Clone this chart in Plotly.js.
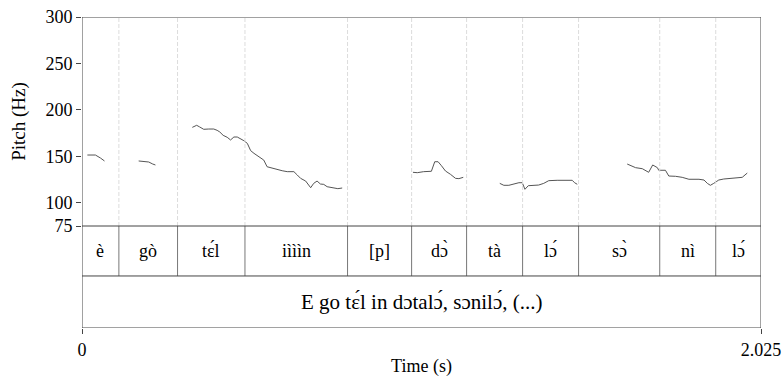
<!DOCTYPE html>
<html>
<head>
<meta charset="utf-8">
<script src="https://cdn.plot.ly/plotly-3.0.1.min.js"></script>
<style>html,body{margin:0;padding:0;background:#fff;}#chart{width:782px;height:380px;}</style>
</head>
<body>
<div id="chart"></div>
<script>
// ---- data ----
const totalDuration = 2.025;
const yTicks = [75, 100, 150, 200, 250, 300];

// pitch contour segments (time s, pitch Hz)
const seg1T = [0.016, 0.040, 0.055, 0.067];
const seg1F = [151.4, 151.4, 148.2, 145.0];
const seg2T = [0.169, 0.199, 0.211, 0.219];
const seg2F = [145.0, 143.9, 141.7, 140.7];
const seg3T = [0.329, 0.342, 0.351, 0.363, 0.378, 0.393, 0.403, 0.411, 0.421, 0.433, 0.443, 0.453, 0.463, 0.473, 0.483, 0.493, 0.503, 0.513, 0.527, 0.542, 0.552, 0.567, 0.582, 0.597, 0.612, 0.632, 0.642, 0.652, 0.667, 0.682, 0.691, 0.701, 0.711, 0.721, 0.731, 0.751, 0.763, 0.776];
const seg3F = [181.2, 183.4, 181.6, 179.1, 179.4, 179.4, 178.0, 176.2, 172.6, 170.5, 167.6, 170.8, 170.8, 169.0, 166.8, 164.0, 156.1, 153.2, 149.6, 146.0, 138.8, 137.1, 135.6, 134.5, 133.5, 133.5, 129.9, 126.3, 123.4, 116.2, 120.9, 123.4, 120.2, 119.8, 117.3, 116.2, 115.2, 115.9];
const seg4T = [0.987, 1.000, 1.019, 1.042, 1.052, 1.062, 1.072, 1.084, 1.099, 1.114, 1.124, 1.137];
const seg4F = [132.8, 132.4, 133.5, 133.9, 144.2, 144.2, 139.9, 134.2, 130.6, 126.3, 126.0, 127.4];
const seg5T = [1.246, 1.258, 1.273, 1.288, 1.303, 1.313, 1.321, 1.331, 1.347, 1.362, 1.377, 1.392, 1.417, 1.442, 1.462, 1.469, 1.477];
const seg5F = [120.9, 118.8, 118.8, 120.5, 121.6, 121.6, 114.5, 118.4, 118.4, 119.1, 120.9, 123.8, 124.2, 124.2, 124.2, 121.6, 119.9];
const seg6T = [1.626, 1.651, 1.671, 1.690, 1.702, 1.716, 1.720, 1.740, 1.750, 1.770, 1.790, 1.810, 1.840, 1.855, 1.865, 1.874, 1.884, 1.899, 1.914, 1.939, 1.969, 1.984];
const seg6F = [141.7, 137.8, 136.7, 132.8, 140.7, 137.8, 135.0, 135.0, 128.8, 128.5, 127.4, 125.3, 125.3, 124.5, 120.9, 118.8, 120.9, 124.5, 125.6, 126.3, 127.4, 132.0];

// word tier (tier 1): interval boundaries (s) and labels
const wordBounds = [0, 0.110, 0.285, 0.486, 0.792, 0.983, 1.147, 1.314, 1.481, 1.723, 1.890, 2.025];
const wordLabels = ["è", "gò", "tɛ́l", "iìììn", "[p]", "dɔ̀", "tà", "lɔ́", "sɔ̀", "nì", "lɔ́"];
// sentence tier (tier 2)
const sentBounds = [0, 2.025];
const sentLabels = ["E go tɛ́l in dɔtalɔ́, sɔnilɔ́, (...)"];

// ---- drawing ----
const serif = "Liberation Serif";
const lineCol = "#444";
const segs = [[seg1T, seg1F], [seg2T, seg2F], [seg3T, seg3F], [seg4T, seg4F], [seg5T, seg5F], [seg6T, seg6F]];
const traces = segs.map(s => ({
  x: s[0], y: s[1], type: "scatter", mode: "lines",
  line: {color: "#555", width: 1}, hoverinfo: "skip", showlegend: false
}));

const tierSplit = 0.51; // within y2 (0..1): tier2 below, tier1 above
const shapes = [];
// dotted boundaries in pitch panel
wordBounds.slice(1, -1).forEach(b => {
  shapes.push({type: "line", xref: "x", yref: "y", x0: b, x1: b, y0: 75, y1: 300,
    line: {color: "#dcdcdc", width: 1, dash: "4px,2px"}});
  shapes.push({type: "line", xref: "x", yref: "y2", x0: b, x1: b, y0: tierSplit, y1: 1,
    line: {color: "#777", width: 1}});
});
// pitch panel frame
shapes.push({type: "rect", xref: "x", yref: "y", x0: 0, x1: totalDuration, y0: 75, y1: 300,
  line: {color: lineCol, width: 1}});
// tiers frame
shapes.push({type: "rect", xref: "x", yref: "y2", x0: 0, x1: totalDuration, y0: 0, y1: 1,
  line: {color: lineCol, width: 1}});
shapes.push({type: "line", xref: "x", yref: "y2", x0: 0, x1: totalDuration, y0: tierSplit, y1: tierSplit,
  line: {color: lineCol, width: 1}});

const annotations = [];
wordLabels.forEach((lab, i) => {
  annotations.push({x: (wordBounds[i] + wordBounds[i + 1]) / 2, y: (tierSplit + 1) / 2, xref: "x", yref: "y2",
    text: lab, showarrow: false, font: {family: serif, size: 18, color: "#000"}});
});
sentLabels.forEach((lab, i) => {
  annotations.push({x: (sentBounds[i] + sentBounds[i + 1]) / 2, y: tierSplit / 2, xref: "x", yref: "y2",
    text: lab, showarrow: false, font: {family: serif, size: 21, color: "#000"}});
});

const layout = {
  width: 782, height: 380,
  margin: {l: 82, r: 21, t: 17, b: 52},
  paper_bgcolor: "#fff", plot_bgcolor: "#fff",
  font: {family: serif, color: "#000", size: 18},
  showlegend: false,
  xaxis: {
    range: [0, totalDuration], tickvals: [0, totalDuration], ticktext: ["0", "2.025"],
    ticks: "outside", ticklen: 5, tickcolor: lineCol, showgrid: false, zeroline: false,
    showline: false, anchor: "y2", tickfont: {family: serif, size: 18},
    title: {text: "Time (s)", font: {family: serif, size: 18}, standoff: 0}
  },
  yaxis: {
    domain: [102 / 311, 1], range: [75, 300], tickvals: yTicks,
    ticks: "outside", ticklen: 5, tickcolor: lineCol, showgrid: false, zeroline: false,
    showline: false, tickfont: {family: serif, size: 18},
    title: {text: "Pitch (Hz)", font: {family: serif, size: 19}, standoff: 14}
  },
  yaxis2: {
    domain: [0, 102 / 311], range: [0, 1], showticklabels: false, ticks: "",
    showgrid: false, zeroline: false, showline: false
  },
  shapes: shapes,
  annotations: annotations
};

Plotly.newPlot("chart", traces, layout, {staticPlot: true, displayModeBar: false});
</script>
</body>
</html>
